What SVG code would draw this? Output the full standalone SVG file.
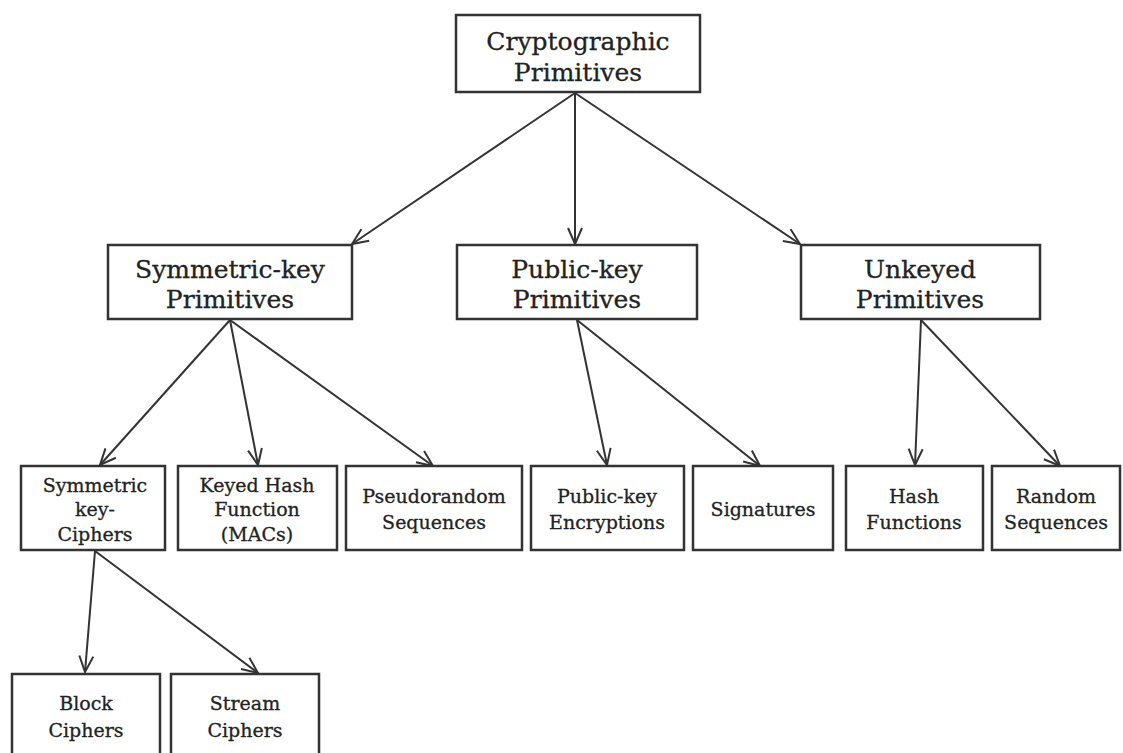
<svg xmlns="http://www.w3.org/2000/svg" width="1123" height="753" viewBox="0 0 1123 753">
<defs>
<style>
.box{fill:#fff;stroke:#333;stroke-width:2.5}
.t{font-family:"DejaVu Serif","Liberation Serif",serif;fill:#222;stroke:#222;stroke-width:0.3;text-anchor:middle}
.big{font-size:25px}
.sm{font-size:19px}
.edge{stroke:#333;stroke-width:2;fill:none;marker-end:url(#arr)}
</style>
<marker id="arr" viewBox="0 0 20 20" refX="18" refY="10" markerWidth="20" markerHeight="20" markerUnits="userSpaceOnUse" orient="auto">
<path d="M2,3 L18,10 L2,17" fill="none" stroke="#333" stroke-width="2"/>
</marker>
</defs>
<g id="connectors">
<line class="edge" x1="575" y1="93" x2="352" y2="244"/>
<line class="edge" x1="575" y1="93" x2="575" y2="244"/>
<line class="edge" x1="575" y1="93" x2="800" y2="244"/>
<line class="edge" x1="230" y1="320" x2="100" y2="465"/>
<line class="edge" x1="230" y1="320" x2="258" y2="465"/>
<line class="edge" x1="230" y1="320" x2="433" y2="466"/>
<line class="edge" x1="577" y1="320" x2="607" y2="465"/>
<line class="edge" x1="577" y1="320" x2="760" y2="466"/>
<line class="edge" x1="921" y1="320" x2="915" y2="465"/>
<line class="edge" x1="921" y1="320" x2="1060" y2="466"/>
<line class="edge" x1="95" y1="551" x2="85" y2="672"/>
<line class="edge" x1="95" y1="551" x2="258" y2="673"/>
</g>
<g id="n-crypto"><rect class="box" x="456" y="15" width="244" height="77"/><text class="t big" x="578" y="50">Cryptographic</text><text class="t big" x="578" y="81">Primitives</text></g>
<g id="n-symkey"><rect class="box" x="108" y="245" width="244" height="74"/><text class="t big" x="230" y="278">Symmetric-key</text><text class="t big" x="230" y="308">Primitives</text></g>
<g id="n-pubkey"><rect class="box" x="457" y="245" width="240" height="74"/><text class="t big" x="577" y="278">Public-key</text><text class="t big" x="577" y="308">Primitives</text></g>
<g id="n-unkeyed"><rect class="box" x="801" y="245" width="239" height="74"/><text class="t big" x="920" y="278">Unkeyed</text><text class="t big" x="920" y="308">Primitives</text></g>
<g id="n-symciph"><rect class="box" x="21" y="466" width="144" height="84"/><text class="t sm" x="95" y="492">Symmetric</text><text class="t sm" x="95" y="516">key-</text><text class="t sm" x="95" y="541">Ciphers</text></g>
<g id="n-keyed"><rect class="box" x="178" y="466" width="159" height="84"/><text class="t sm" x="257" y="492">Keyed Hash</text><text class="t sm" x="257" y="516">Function</text><text class="t sm" x="257" y="541">(MACs)</text></g>
<g id="n-pseudo"><rect class="box" x="346" y="466" width="176" height="84"/><text class="t sm" x="434" y="503">Pseudorandom</text><text class="t sm" x="434" y="529">Sequences</text></g>
<g id="n-pubenc"><rect class="box" x="531" y="466" width="153" height="84"/><text class="t sm" x="607" y="503">Public-key</text><text class="t sm" x="607" y="529">Encryptions</text></g>
<g id="n-sig"><rect class="box" x="693" y="466" width="140" height="84"/><text class="t sm" x="763" y="516">Signatures</text></g>
<g id="n-hash"><rect class="box" x="846" y="466" width="137" height="84"/><text class="t sm" x="914" y="503">Hash</text><text class="t sm" x="914" y="529">Functions</text></g>
<g id="n-random"><rect class="box" x="992" y="466" width="128" height="84"/><text class="t sm" x="1056" y="503">Random</text><text class="t sm" x="1056" y="529">Sequences</text></g>
<g id="n-block"><rect class="box" x="12" y="674" width="148" height="90"/><text class="t sm" x="86" y="710">Block</text><text class="t sm" x="86" y="737">Ciphers</text></g>
<g id="n-stream"><rect class="box" x="171" y="674" width="148" height="90"/><text class="t sm" x="245" y="710">Stream</text><text class="t sm" x="245" y="737">Ciphers</text></g>
</svg>
